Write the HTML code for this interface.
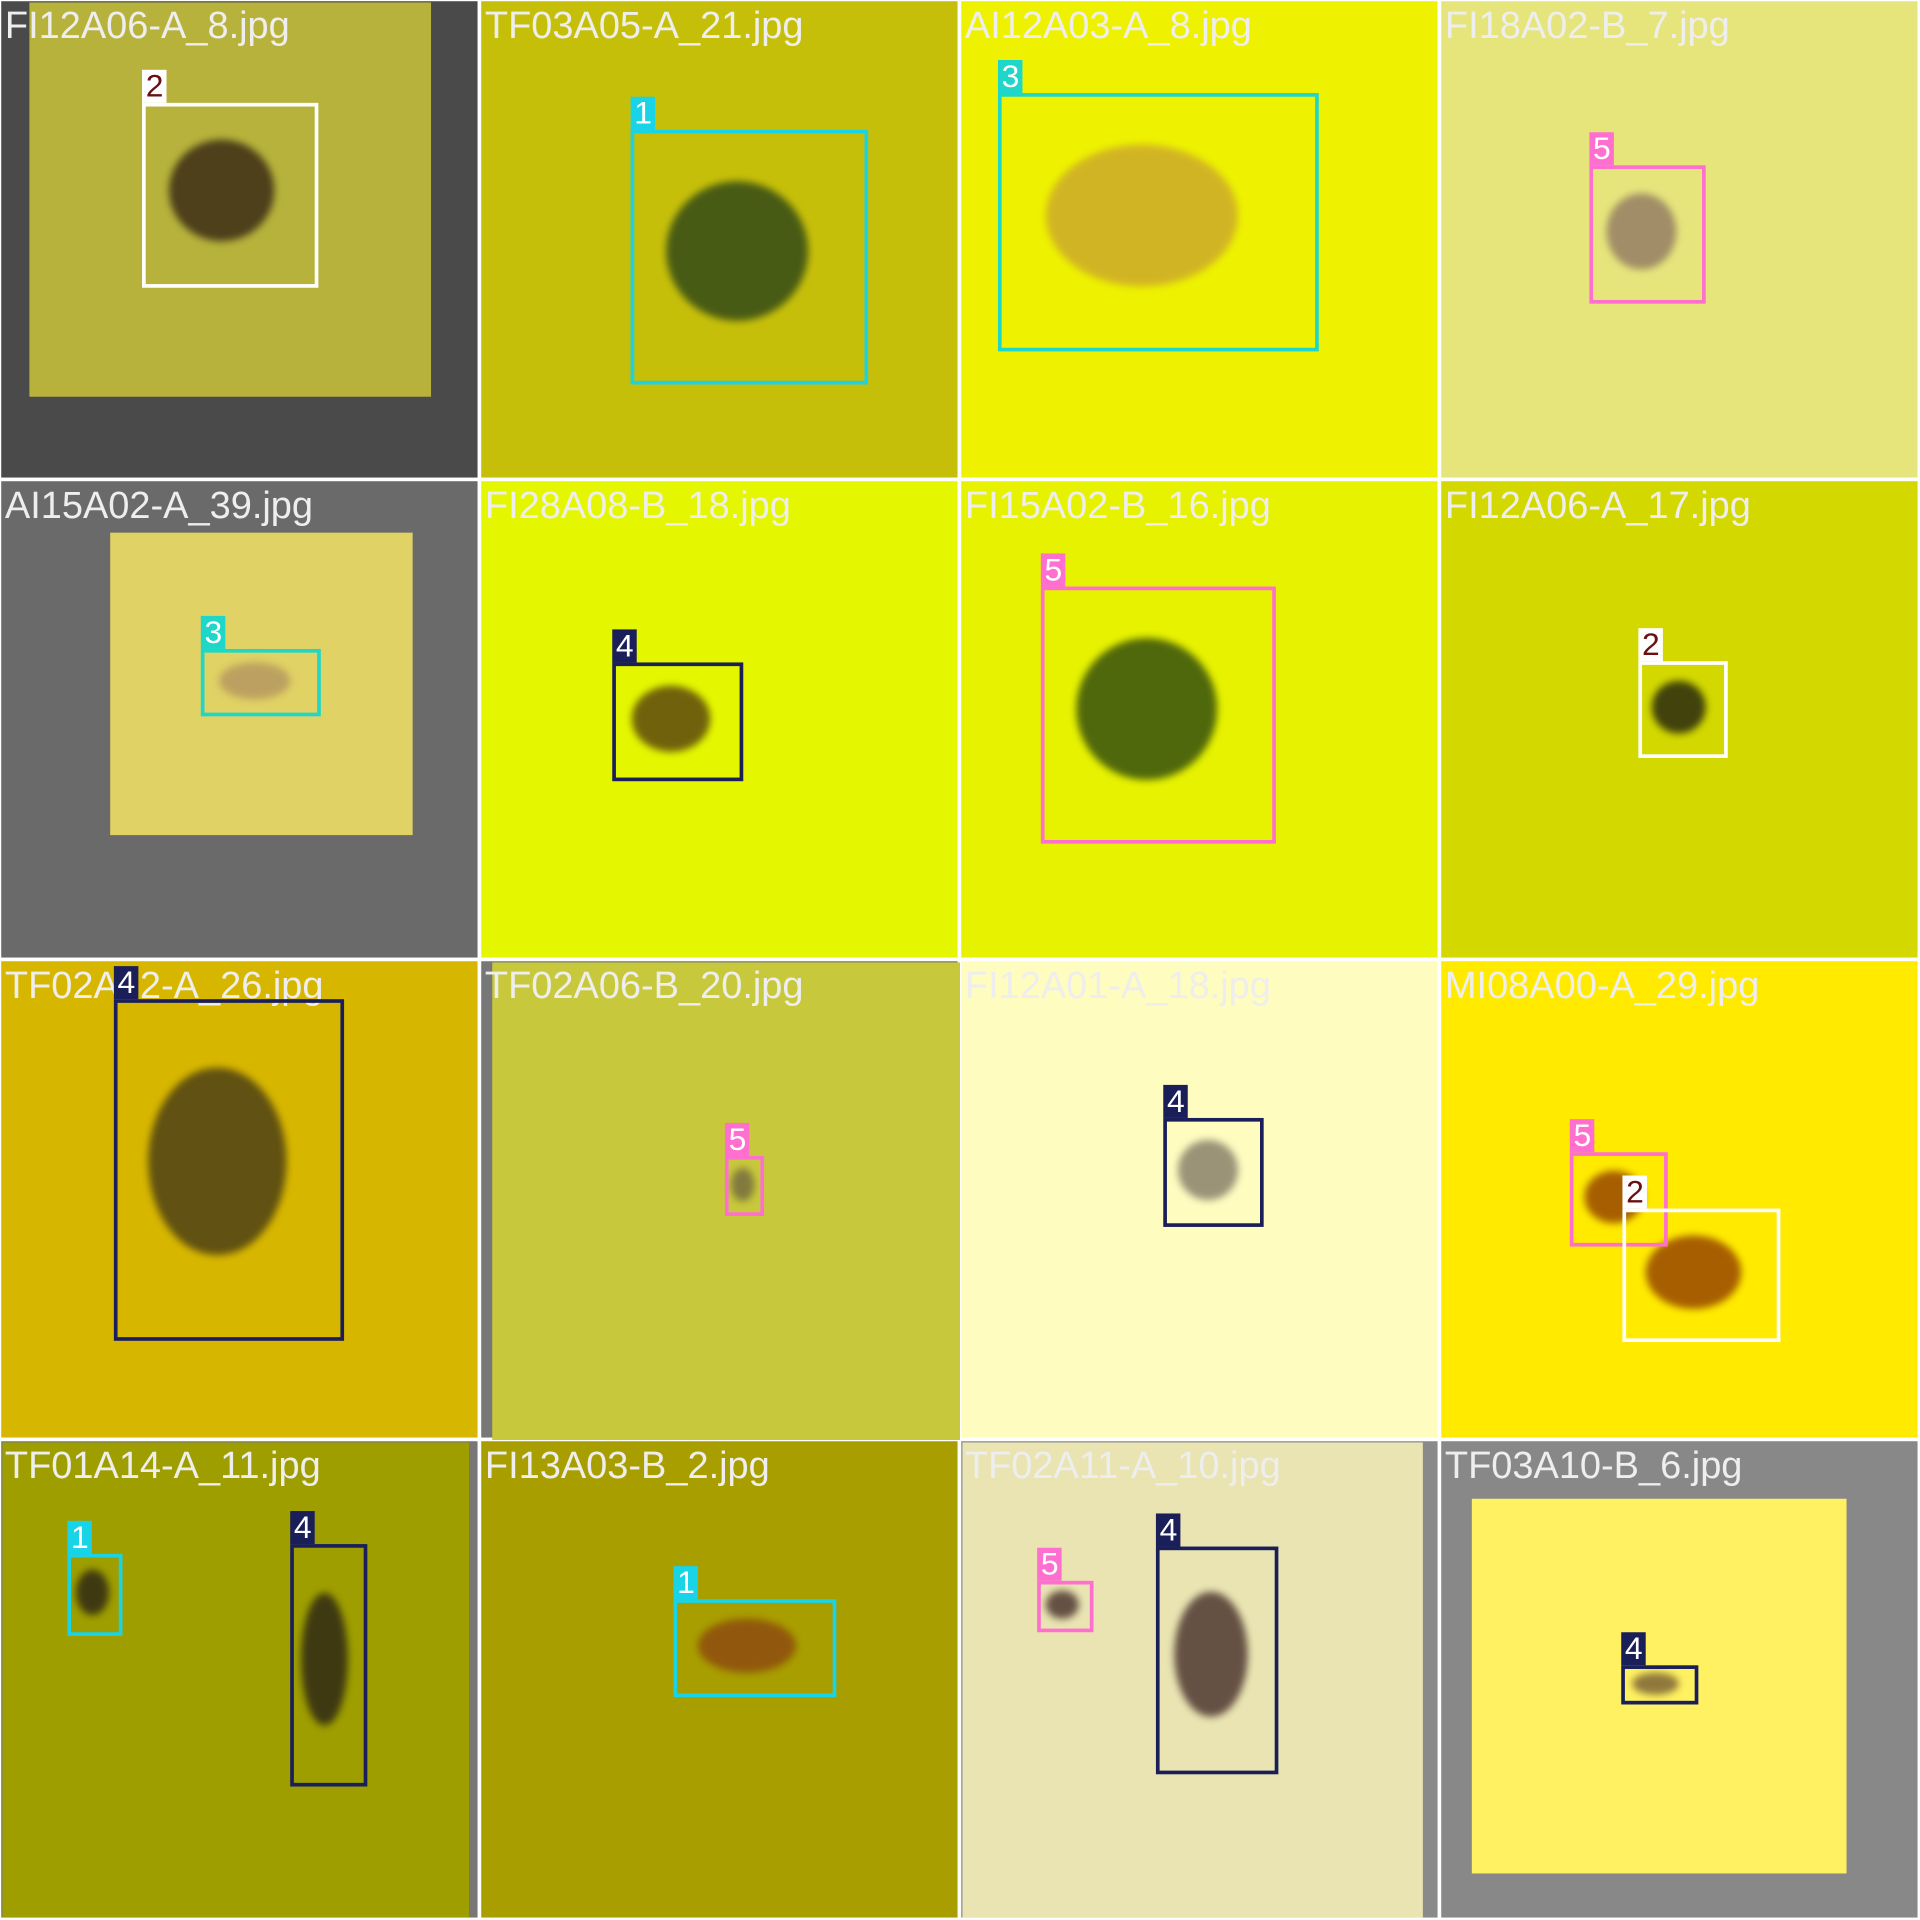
<!DOCTYPE html>
<html><head><meta charset="utf-8">
<style>
html,body{margin:0;padding:0;background:#fff;}
#wrap{position:relative;width:1568px;height:1568px;transform:scale(1.22449);transform-origin:0 0;overflow:hidden;background:#fff;font-family:"Liberation Sans",sans-serif;}
.cell{position:absolute;width:389px;height:389px;overflow:hidden;}
.in{position:absolute;}
.fn{position:absolute;left:4px;top:4px;font-size:31px;color:#eeeeee;white-space:nowrap;line-height:36px;}
.box{position:absolute;border:3px solid;box-sizing:border-box;}
.tab{position:absolute;font-size:26px;line-height:27px;height:27px;padding:0 3px;box-sizing:border-box;}
.bug{position:absolute;border-radius:50%;filter:blur(3px);}
</style></head><body>
<div id="wrap"></div>
<script>
const fileNames=["FI12A06-A_8.jpg","TF03A05-A_21.jpg","AI12A03-A_8.jpg","FI18A02-B_7.jpg","AI15A02-A_39.jpg","FI28A08-B_18.jpg","FI15A02-B_16.jpg","FI12A06-A_17.jpg","TF02A12-A_26.jpg","TF02A06-B_20.jpg","FI12A01-A_18.jpg","MI08A00-A_29.jpg","TF01A14-A_11.jpg","FI13A03-B_2.jpg","TF02A11-A_10.jpg","TF03A10-B_6.jpg"];
const cellBg=["#4a4a4a","#c6bf0a","#eef200","#e6e57c","#6a6a6a","#e4f700","#e6f200","#d2d800","#d7b600","#777777","#fffcc0","#ffea00","#777777","#a89e00","#8a8a8a","#888888"];
const innerRects=[[24,2,352,324,"#b7b23c"],null,null,null,[90,435,337,682,"#e0d264"],null,null,null,null,[402,786,784,1176,"#c8c83c"],null,null,[2,1178,383,1566,"#9e9e00"],null,[786,1178,1162,1566,"#e9e4b2"],[1202,1224,1508,1530,"#fff162"]];
const boxCells=[0,1,2,3,4,5,6,7,8,9,10,11,11,12,12,13,14,14,15];
const boxClasses=[2,1,3,5,3,4,5,2,4,5,4,5,2,1,4,1,5,4,4];
const boxX1=[116,515,815,1298,164,500,850,1338,93,592,950,1282,1325,55,237,550,847,944,1324];
const boxY1=[84,106,76,135,530,541,479,540,816,944,913,941,987,1269,1261,1306,1291,1263,1360];
const boxX2=[260,709,1077,1393,262,607,1042,1411,281,624,1032,1362,1454,100,300,683,893,1044,1387];
const boxY2=[235,314,287,248,585,638,689,619,1095,993,1002,1018,1096,1336,1459,1386,1333,1449,1392];
const clsColor={1:"#19d3e6",2:"#ffffff",3:"#1ed7c8",4:"#1a1f5a",5:"#ff6fcf"};
const clsText={1:"#ffffff",2:"#6b1010",3:"#ffffff",4:"#ffffff",5:"#ffffff"};
const bugColor=["#2a1a10","#1e3a18","#c8a030","#8a7060","#b09060","#4a3010","#1e3a10","#111111","#3a3018","#6a6040","#7a7060","#8a3000","#201818","#8a4010","#3a2020","#6a5030"];
const W=document.getElementById('wrap');
for(let i=0;i<16;i++){
  const r=Math.floor(i/4),c=i%4;
  const d=document.createElement('div');
  d.className='cell';
  d.style.left=(c*392+1)+'px';d.style.top=(r*392+1)+'px';d.style.background=cellBg[i];
  
  
  W.appendChild(d);
}
for(let i=0;i<16;i++){
  const ir=innerRects[i];
  if(!ir)continue;
  const e=document.createElement('div');
  e.className='in';
  e.style.left=ir[0]+'px';e.style.top=ir[1]+'px';e.style.width=(ir[2]-ir[0])+'px';e.style.height=(ir[3]-ir[1])+'px';e.style.background=ir[4];
  
  
  W.appendChild(e);
}
for(let k=0;k<boxX1.length;k++){
  const b=document.createElement('div');
  b.className='bug';
  const w=boxX2[k]-boxX1[k],h=boxY2[k]-boxY1[k];
  b.style.left=(boxX1[k]+w*0.15)+'px';b.style.top=(boxY1[k]+h*0.2)+'px';
  b.style.width=(w*0.6)+'px';b.style.height=(h*0.55)+'px';
  b.style.background=bugColor[boxCells[k]];b.style.opacity=0.75;
  
  
  W.appendChild(b);
}
for(let i=0;i<16;i++){
  const t=document.createElement('div');
  t.className='fn';
  t.style.left=((i%4)*392+4)+'px';t.style.top=(Math.floor(i/4)*392+3)+'px';
  t.textContent=fileNames[i];
  
  
  W.appendChild(t);
}
for(let k=0;k<boxX1.length;k++){
  const cl=boxClasses[k];
  const b=document.createElement('div');
  b.className='box';
  b.style.left=boxX1[k]+'px';b.style.top=boxY1[k]+'px';
  b.style.width=(boxX2[k]-boxX1[k])+'px';b.style.height=(boxY2[k]-boxY1[k])+'px';
  b.style.borderColor=clsColor[cl];
  
  
  W.appendChild(b);
  const t=document.createElement('div');
  t.className='tab';
  t.style.left=boxX1[k]+'px';t.style.top=(boxY1[k]-27)+'px';
  t.style.background=clsColor[cl];t.style.color=clsText[cl];
  t.textContent=String(cl);
  
  
  W.appendChild(t);
}
</script>
</body></html>
